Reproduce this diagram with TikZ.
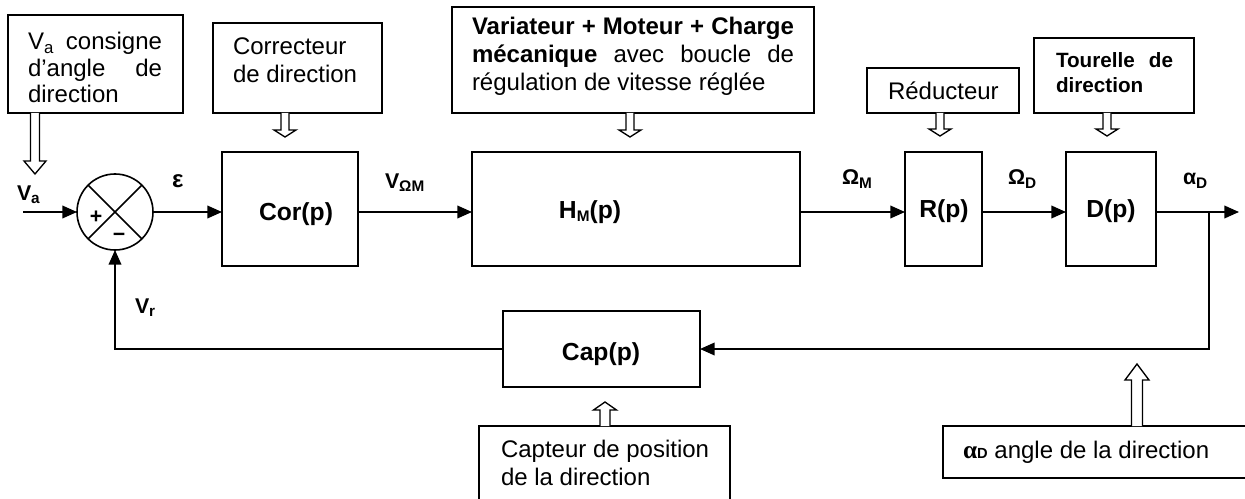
\documentclass[tikz,border=0pt]{standalone}
\usepackage{fontspec}
\setmainfont{Liberation Sans}
\newfontfamily\serifgreek{Liberation Serif}
\usetikzlibrary{arrows.meta,calc}
\newcommand\sbx[1]{\raisebox{-2.5pt}{\fontsize{11.5}{12}\selectfont\bfseries #1}}
\newcommand\hollowarr[6]{%
  \draw[hollow] ($(#1)+(-#3,0)$) -- ($(#2)+(-#3,-#5)$) -- ($(#2)+(-#4,-#5)$) -- (#2)
    -- ($(#2)+(#4,-#5)$) -- ($(#2)+(#3,-#5)$) -- ($(#1)+(#3,0)$);}
\begin{document}
\begin{tikzpicture}[x=0.75pt,y=-0.75pt,
  every node/.style={inner sep=0pt, outer sep=0pt},
  line/.style={line width=1.2pt},
  box/.style={draw, line width=1.2pt, rectangle},
  rpx/.style 2 args={minimum width=#1*0.75pt, minimum height=#2*0.75pt},
  flow/.style={line width=1.2pt, -{Triangle[length=11pt,width=9.5pt]}},
  hollow/.style={draw, fill=white, line width=1pt, line join=miter},
  txt/.style={anchor=base west, font=\fontsize{18}{21}\selectfont},
  lbl/.style={anchor=base west, font=\fontsize{16}{18}\selectfont\bfseries},
  blk/.style={anchor=base, font=\fontsize{18.5}{21}\selectfont\bfseries},
]
\useasboundingbox (0,0) rectangle (1245,499);

% annotation boxes
\node[box, rpx={175}{98}]  (vaBox)   at (95.5,64) {};
\node[box, rpx={169}{90}]  (corBox)  at (297.5,68) {};
\node[box, rpx={362}{106}] (varBox)  at (633,60) {};
\node[box, rpx={152}{45}]  (redBox)  at (943,90.5) {};
\node[box, rpx={160}{75}]  (tourBox) at (1114,75.5) {};
\node[box, rpx={251}{84}]  (captBox) at (604.5,468) {};
\node[box, rpx={312}{52}]  (alphaBox) at (1099,452) {};

% main blocks
\node[draw, line width=1.2pt, circle, minimum size=76*0.75pt] (sum) at (115,212) {};
\node[box, rpx={136}{114}] (cor) at (290,209) {};
\node[box, rpx={328}{114}] (hm)  at (636,209) {};
\node[box, rpx={77}{114}]  (r)   at (943.5,209) {};
\node[box, rpx={90}{114}]  (d)   at (1111,209) {};
\node[box, rpx={197}{76}]  (cap) at (601.5,349) {};

% summing junction cross
\draw[line] (sum.north west) -- (sum.south east);
\draw[line] (sum.north east) -- (sum.south west);
\node[font=\fontsize{16}{18}\selectfont\bfseries] (plus) at (96,217) {+};
\node[font=\fontsize{16}{18}\selectfont\bfseries] (minus) at (119,237) {−};

% block labels
\node[blk] (corL) at (296,220) {Cor(p)};
\node[blk] (hmL)  at (590,218) {H\sbx{M}(p)};
\node[blk] (rL)   at (944,217) {R(p)};
\node[blk] (dL)   at (1111,217) {D(p)};
\node[blk] (capL) at (601,360) {Cap(p)};

% connectors
\coordinate (in)  at (23,212);
\coordinate (out) at (1239,212);
\coordinate (br)  at (1209,212);
\draw[flow] (in) -- (sum.west);
\draw[flow] (sum.east) -- (cor.west |- sum.east);
\draw[flow] (cor.east |- sum.east) -- (hm.west |- sum.east);
\draw[flow] (hm.east |- sum.east) -- (r.west |- sum.east);
\draw[flow] (r.east |- sum.east) -- (d.west |- sum.east);
\draw[flow] (d.east |- sum.east) -- (out);
\draw[flow] (br) |- (cap.east);
\draw[flow] (cap.west) -| (sum.south);

% signal labels
\node[lbl] (laVa)  at (17,200)  {V\sbx{a}};
\node[lbl, font=\fontsize{18}{20}\selectfont\bfseries] (laEps) at (172,187) {ε};
\node[lbl] (laVom) at (385,188) {V\sbx{ΩM}};
\node[lbl] (laOm)  at (842,185) {Ω\sbx{M}};
\node[lbl] (laOd)  at (1008,185) {Ω\sbx{D}};
\node[lbl] (laAd)  at (1183,185) {α\sbx{D}};
\node[lbl] (laVr)  at (135,313) {V\sbx{r}};

% hollow arrows
\coordinate (tipVa)   at (35,174);
\coordinate (tipCor)  at (285,137);
\coordinate (tipVar)  at (630,137);
\coordinate (tipRed)  at (940,136);
\coordinate (tipTour) at (1107,136);
\coordinate (tipCapt) at (605,402);
\coordinate (tipAl)   at (1137,364);
\hollowarr{tipVa |- vaBox.south}{tipVa}{4.5}{11}{13}{}
\hollowarr{tipCor |- corBox.south}{tipCor}{4}{11}{7}{}
\hollowarr{tipVar |- varBox.south}{tipVar}{4}{11}{7}{}
\hollowarr{tipRed |- redBox.south}{tipRed}{4}{11}{7}{}
\hollowarr{tipTour |- tourBox.south}{tipTour}{4}{11}{7}{}
\hollowarr{tipCapt |- captBox.north}{tipCapt}{5}{11.5}{-8}{}
\hollowarr{tipAl |- alphaBox.north}{tipAl}{5.5}{12}{-16}{}

% annotation texts
\node[txt] (va1) at (28,50)  {\makebox[100.5pt][s]{V\textsubscript{a} consigne}};
\node[txt] (va2) at (28,77)  {\makebox[100.5pt][s]{d’angle de}};
\node[txt] (va3) at (28,103) {direction};
\node[txt] (co1) at (233,55) {Correcteur};
\node[txt] (co2) at (233,83) {de direction};
\node[txt] (vr1) at (472,35) {\makebox[241.5pt][s]{\bfseries Variateur + Moteur + Charge}};
\node[txt] (vr2) at (472,63) {\makebox[241.5pt][s]{\textbf{mécanique} avec boucle de}};
\node[txt] (vr3) at (472,91) {régulation de vitesse réglée};
\node[txt] (re1) at (888,100) {Réducteur};
\node[txt, font=\fontsize{15.5}{18}\selectfont\bfseries] (to1) at (1056,68) {\makebox[87.75pt][s]{Tourelle de}};
\node[txt, font=\fontsize{15.5}{18}\selectfont\bfseries] (to2) at (1056,93) {direction};
\node[txt] (ca1) at (501,457) {Capteur de position};
\node[txt] (ca2) at (501,485) {de la direction};
\node[txt] (al1) at (963,458) {{\serifgreek\bfseries\fontsize{19}{20}\selectfont α}{\fontsize{11}{12}\selectfont\bfseries D} angle de la direction};
\end{tikzpicture}
\end{document}
